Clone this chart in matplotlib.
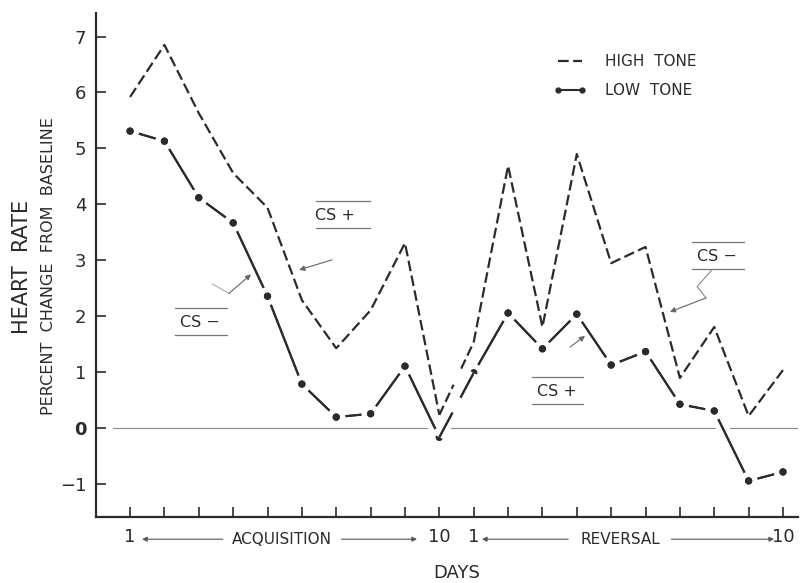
import matplotlib
matplotlib.use('Agg')
import matplotlib.pyplot as plt
import matplotlib.patheffects as pe
import numpy as np

# day index across both phases (acquisition 1-10, reversal 1-10)
days = np.arange(20)
high_tone = [5.92, 6.85, 5.63, 4.56, 3.94, 2.29, 1.43, 2.11, 3.31, 0.24,
             1.54, 4.69, 1.81, 4.90, 2.95, 3.24, 0.90, 1.81, 0.22, 1.04]
low_tone = [5.31, 5.13, 4.12, 3.67, 2.36, 0.79, 0.20, 0.26, 1.11, -0.16,
            0.99, 2.06, 1.42, 2.04, 1.13, 1.37, 0.43, 0.31, -0.94, -0.78]
phase_ends = {0: '1', 9: '10', 10: '1', 19: '10'}
yticks = [-1, 0, 1, 2, 3, 4, 5, 6, 7]

ink = '#2b2b2b'
acq = slice(0, 10)
rev = slice(10, 20)
bridge = slice(9, 11)

fig = plt.figure(figsize=(8.01, 5.83), dpi=100)
ax = fig.add_axes([0.1199, 0.1132, 0.8765, 0.8645])

# thin baseline, broken by the white halo of the low tone line
ax.axhline(0, xmin=0.024, color='#8a8a8a', lw=0.8, zorder=1)

halo = [pe.withStroke(linewidth=9, foreground='white'), pe.Normal()]
dash = (0, (4.8, 2))

# high tone (dashed)
h_high, = ax.plot(days[acq], high_tone[acq], color=ink, lw=1.6, ls=dash, zorder=3)
ax.plot(days[rev], high_tone[rev], color=ink, lw=1.6, ls=dash, zorder=3)
ax.plot(days[bridge], high_tone[bridge], color=ink, lw=1.6,
        ls=(0, (4.5, 2, 4.5, 2, 2, 8, 4.5, 2, 4.5, 2, 3, 50)), zorder=3)

# low tone (solid with dots)
h_low, = ax.plot(days[acq], low_tone[acq], color=ink, lw=1.5, marker='o',
                 ms=4.2, path_effects=halo, zorder=2)
ax.plot(days[rev], low_tone[rev], color=ink, lw=1.5, marker='o', ms=4.2,
        path_effects=halo, zorder=2)
ax.plot(days[bridge], low_tone[bridge], color=ink, lw=1.5,
        ls=(0, (13.4, 8.2, 20, 50)), path_effects=halo, zorder=2)

ax.set_xlim(-0.99, 19.44)
ax.set_ylim(-1.585, 7.42)

for s in ['top', 'right']:
    ax.spines[s].set_visible(False)
for s in ['left', 'bottom']:
    ax.spines[s].set_color(ink)
    ax.spines[s].set_linewidth(1.6)

ax.set_yticks(yticks)
ax.set_yticklabels([str(v) if v >= 0 else '\u2212' + str(-v) for v in yticks])
ax.set_xticks(days)
ax.set_xticklabels([phase_ends.get(d, '') for d in days])
ax.tick_params(direction='in', length=7, width=1.2, colors=ink,
               labelsize=13, labelcolor=ink)
ax.tick_params(axis='y', pad=7)
ax.tick_params(axis='x', pad=8)
for lab in ax.get_yticklabels():
    if lab.get_text() == '0':
        lab.set_fontweight('bold')

# phase captions under the x axis
tr = ax.get_xaxis_transform()
cap_y = -0.044
ax.text(4.42, cap_y, 'ACQUISITION', transform=tr, ha='center', va='center',
        fontsize=11, color=ink)
ax.text(14.26, cap_y, 'REVERSAL', transform=tr, ha='center', va='center',
        fontsize=11, color=ink)
arr = dict(arrowstyle='-|>', color='#555555', lw=0.8, mutation_scale=7,
           shrinkA=0, shrinkB=0)
for x0, x1 in [(2.7, 0.35), (6.15, 8.35), (12.75, 10.24), (15.75, 18.74)]:
    ax.annotate('', xy=(x1, cap_y), xytext=(x0, cap_y), xycoords=tr,
                textcoords=tr, arrowprops=arr, annotation_clip=False)

fig.text(0.5705, 0.017, 'DAYS', ha='center', va='center', fontsize=13,
         color=ink)
fig.text(0.027, 0.542, 'HEART  RATE', rotation=90, ha='center', va='center',
         fontsize=15, color=ink)
fig.text(0.060, 0.543, 'PERCENT  CHANGE  FROM  BASELINE', rotation=90,
         ha='center', va='center', fontsize=11.5, color=ink)

# legend
leg = ax.legend([h_high, h_low], ['HIGH  TONE', 'LOW  TONE'], loc='upper left',
                bbox_to_anchor=(0.651, 0.918), frameon=False, fontsize=11,
                handlelength=2.2, handletextpad=1.2, labelspacing=0.9,
                borderpad=0, borderaxespad=0, numpoints=2)
leg.legend_handles[1].set_markersize(3.5)
leg.legend_handles[1].set_path_effects([])
for t in leg.get_texts():
    t.set_color(ink)

# CS+ / CS- labels with rules above and below
def cs_label(x, y, text, x0, x1, y_top, y_bot):
    ax.text(x, y, text, ha='center', va='center', fontsize=11.5, color=ink)
    ax.plot([x0, x1], [y_top, y_top], color='#777777', lw=0.9)
    ax.plot([x0, x1], [y_bot, y_bot], color='#777777', lw=0.9)

thin = dict(arrowstyle='-|>', color='#666666', lw=0.8, mutation_scale=8,
            shrinkA=0, shrinkB=0)

cs_label(5.97, 3.80, 'CS +', 5.41, 6.98, 4.06, 3.58)
ax.annotate('', xy=(4.92, 2.83), xytext=(5.88, 3.01), arrowprops=thin)

cs_label(2.04, 1.89, 'CS \u2212', 1.31, 2.82, 2.15, 1.67)
ax.plot([2.39, 2.88], [2.58, 2.41], color='#aaaaaa', lw=0.8)
ax.annotate('', xy=(3.52, 2.75), xytext=(2.88, 2.41), arrowprops=thin)

cs_label(17.08, 3.07, 'CS \u2212', 16.35, 17.86, 3.33, 2.85)
ax.plot([16.93, 16.5, 16.76], [2.83, 2.53, 2.33], color='#888888', lw=0.8)
ax.annotate('', xy=(15.71, 2.08), xytext=(16.76, 2.33), arrowprops=thin)

cs_label(12.42, 0.66, 'CS +', 11.7, 13.18, 0.92, 0.43)
ax.annotate('', xy=(13.24, 1.65), xytext=(12.8, 1.45), arrowprops=thin)

fig.savefig('out.png', dpi=100, facecolor='white')
